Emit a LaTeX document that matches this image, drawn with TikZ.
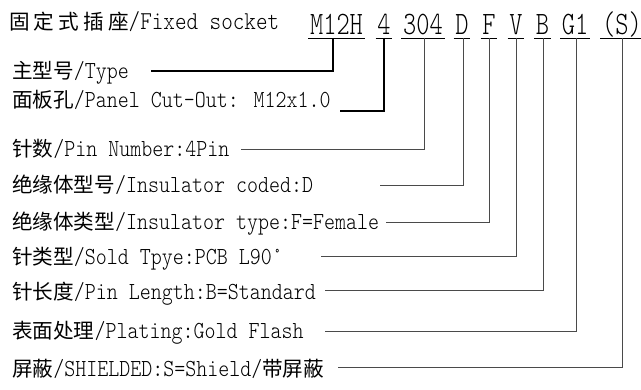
\documentclass[tikz,border=0pt]{standalone}
\usepackage{fontspec}
\usepackage{xcolor}
\usepackage{tikz}
\setmainfont{lmmonolt10-regular.otf}[FakeStretch=0.855]
\newfontfamily\zhfont{Noto Sans CJK SC}
\newfontfamily\codefont{lmmonolt10-regular.otf}[FakeStretch=0.77]
\newcommand{\zh}[1]{{\zhfont\fontsize{20.6}{24}\selectfont #1}}
\newcommand{\zhwide}[1]{{\zhfont\addfontfeature{LetterSpace=20}\fontsize{20.6}{24}\selectfont #1}}
\definecolor{leadgray}{HTML}{4a4a4a}
\usetikzlibrary{positioning, calc}

\begin{document}
\begin{tikzpicture}[x=1pt, y=-1pt,
    rowtext/.style={anchor=base west, inner sep=0pt, font=\fontsize{24.5}{28}\selectfont},
    codebox/.style={anchor=base, inner xsep=1.5pt, inner ysep=0pt, font=\codefont\fontsize{32.7}{36}\selectfont},
    leadbold/.style={draw=black, line width=1.4pt},
    leadthin/.style={draw=leadgray, line width=0.9pt}]
    \useasboundingbox (0,0) rectangle (641,390);

    % Title and order code
    \node[rowtext, font=\fontsize{25.8}{28}\selectfont] (title) at (9,29.5) {\zhwide{固定式插座}/Fixed socket};
    \node[codebox] (cm12h) at (336.5,35) {M12H};
    \node[codebox] (cfour) at (384,35) {4};
    \node[codebox] (cpins) at (423,35) {304};
    \node[codebox] (cd) at (462,35) {D};
    \node[codebox] (cf) at (489,35) {F};
    \node[codebox] (cv) at (516,35) {V};
    \node[codebox] (cb) at (542.5,35) {B};
    \node[codebox] (cg) at (575,35) {G1};
    \node[codebox] (cs) at (622,35) {(S)};

    % Underlines
    \foreach \c in {cm12h, cfour, cpins, cd, cf, cv, cb, cg, cs}
        \draw[line width=0.9pt] ([yshift=-3pt]\c.base west) -- ([yshift=-3pt]\c.base east);

    % Explanation rows
    \node[rowtext] (type) at (12,78.5) {\zh{主型号}/Type};
    \node[rowtext] (panel) at (12,108) {\zh{面板孔}/Panel Cut-Out: M12x1.0};
    \node[rowtext] (pinnum) at (12,157) {\zh{针数}/Pin Number:4Pin};
    \node[rowtext] (inscode) at (12,193) {\zh{绝缘体型号}/Insulator coded:D};
    \node[rowtext] (instype) at (12,229.5) {\zh{绝缘体类型}/Insulator type:F=Female};
    \node[rowtext] (sold) at (12,265) {\zh{针类型}/Sold Tpye:PCB L90°};
    \node[rowtext] (pinlen) at (12,300) {\zh{针长度}/Pin Length:B=Standard};
    \node[rowtext] (plating) at (12,339) {\zh{表面处理}/Plating:Gold Flash};
    \node[rowtext] (shield) at (12,376.5) {\zh{屏蔽}/SHIELDED:S=Shield/\zh{带屏蔽}};

    % Leader ends
    \coordinate (typeend) at (151,71);
    \coordinate (panelend) at (340,111);
    \coordinate (pinnumend) at (241,149.5);
    \coordinate (inscodeend) at (380,185);
    \coordinate (instypeend) at (386,222);
    \coordinate (soldend) at (321,256);
    \coordinate (pinlenend) at (325,290);
    \coordinate (platingend) at (325,331);
    \coordinate (shieldend) at (338,367);

    % Leaders
    \draw[leadbold] ([xshift=-3.5pt,yshift=-3pt]cm12h.base) |- (typeend);
    \draw[leadbold] ([yshift=-3pt]cfour.base) |- (panelend);
    \draw[leadthin] ([xshift=1pt,yshift=-3pt]cpins.base) |- (pinnumend);
    \draw[leadthin] ([xshift=1pt,yshift=-3pt]cd.base) |- (inscodeend);
    \draw[leadthin] ([yshift=-3pt]cf.base) |- (instypeend);
    \draw[leadthin] ([yshift=-3pt]cv.base) |- (soldend);
    \draw[leadthin] ([xshift=0.5pt,yshift=-3pt]cb.base) |- (pinlenend);
    \draw[leadthin] ([xshift=1pt,yshift=-3pt]cg.base) |- (platingend);
    \draw[leadthin] ([yshift=-3pt]cs.base) |- (shieldend);
\end{tikzpicture}
\end{document}
